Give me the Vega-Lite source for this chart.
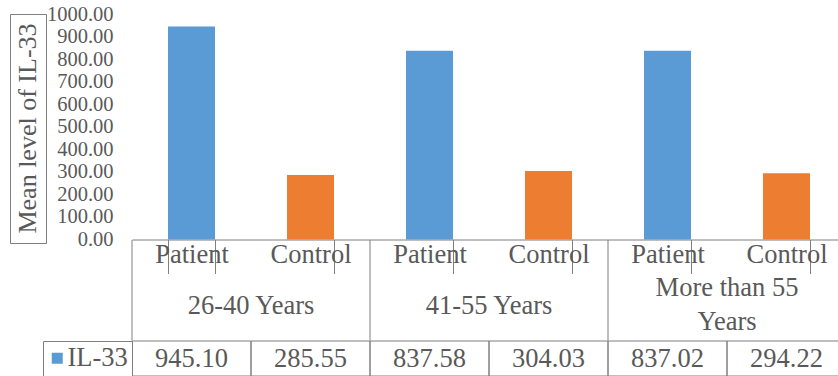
{
  "$schema": "https://vega.github.io/schema/vega-lite/v6.json",
  "padding": {"left": 9, "top": 4, "right": 0, "bottom": 0},
  "config": {
    "view": {"stroke": null},
    "font": "Liberation Serif"
  },
  "datasets": {
    "il33": [
      {"column": "26-40 Years / Patient", "group": "26-40 Years", "type": "Patient", "value": 945.10},
      {"column": "26-40 Years / Control", "group": "26-40 Years", "type": "Control", "value": 285.55},
      {"column": "41-55 Years / Patient", "group": "41-55 Years", "type": "Patient", "value": 837.58},
      {"column": "41-55 Years / Control", "group": "41-55 Years", "type": "Control", "value": 304.03},
      {"column": "More than 55 Years / Patient", "group": "More than 55 Years", "type": "Patient", "value": 837.02},
      {"column": "More than 55 Years / Control", "group": "More than 55 Years", "type": "Control", "value": 294.22}
    ],
    "groups": [
      {"group": "26-40 Years", "lines": ["26-40 Years"]},
      {"group": "41-55 Years", "lines": ["41-55 Years"]},
      {"group": "More than 55 Years", "lines": ["More than 55", "Years"]}
    ]
  },
  "spacing": -5,
  "hconcat": [
    {
      "width": 36,
      "height": 229,
      "view": {"stroke": "#7f7f7f", "strokeWidth": 1},
      "data": {"values": [{"label": "Mean level of IL-33"}]},
      "mark": {"type": "text", "angle": 270, "font": "Liberation Serif", "fontSize": 26, "color": "#595959", "align": "center", "baseline": "middle"},
      "encoding": {"text": {"field": "label", "type": "nominal"}}
    },
    {
      "bounds": "flush",
      "spacing": 0,
      "resolve": {"scale": {"x": "independent", "color": "independent"}, "legend": {"color": "independent"}},
      "vconcat": [
        {
          "width": 714,
          "height": 225.5,
          "data": {"name": "il33"},
          "mark": {"type": "bar"},
          "encoding": {
            "x": {
              "field": "column", "type": "nominal", "sort": null,
              "scale": {"paddingInner": 0.605, "paddingOuter": 0.3025},
              "axis": {
                "title": null,
                "labelExpr": "split(datum.value, ' / ')[1]",
                "labelFont": "Liberation Serif", "labelFontSize": 26.5, "labelColor": "#595959", "labelAngle": 0,
                "labelBaseline": "middle", "labelPadding": -19,
                "tickBand": "extent", "tickSize": 34, "tickColor": "#7f7f7f",
                "domainColor": "#7f7f7f", "grid": false, "labelOverlap": false
              }
            },
            "y": {
              "field": "value", "type": "quantitative",
              "scale": {"domain": [0, 1000], "nice": false},
              "axis": {
                "title": null,
                "values": [0, 100, 200, 300, 400, 500, 600, 700, 800, 900, 1000],
                "format": ".2f",
                "labelFont": "Liberation Serif", "labelFontSize": 20.5, "labelColor": "#595959", "labelPadding": 19,
                "ticks": false, "tickSize": 0, "domain": false, "grid": false
              }
            },
            "color": {
              "field": "type", "type": "nominal",
              "scale": {"domain": ["Patient", "Control"], "range": ["#5B9BD5", "#ED7D31"]},
              "legend": null
            }
          }
        },
        {
          "width": 714,
          "height": 100.5,
          "data": {"name": "groups"},
          "encoding": {
            "x": {
              "field": "group", "type": "nominal", "sort": null,
              "scale": {"type": "band", "paddingInner": 0, "paddingOuter": 0},
              "axis": null
            }
          },
          "layer": [
            {
              "mark": {"type": "rule", "color": "#7f7f7f", "strokeWidth": 1},
              "encoding": {"x": {"field": "group", "type": "nominal", "sort": null, "bandPosition": 0}}
            },
            {
              "transform": [{"filter": "length(datum.lines) == 1"}],
              "mark": {"type": "text", "fontSize": 26.5, "color": "#595959", "baseline": "middle", "dy": 16},
              "encoding": {"text": {"field": "lines", "type": "nominal"}}
            },
            {
              "transform": [{"filter": "length(datum.lines) > 1"}],
              "mark": {"type": "text", "fontSize": 26.5, "color": "#595959", "baseline": "middle", "dy": -2, "lineHeight": 34},
              "encoding": {"text": {"field": "lines", "type": "nominal"}}
            }
          ]
        },
        {
          "width": 714,
          "height": 35,
          "data": {"name": "il33"},
          "encoding": {
            "x": {
              "field": "column", "type": "nominal", "sort": null,
              "scale": {"type": "band", "paddingInner": 0, "paddingOuter": 0},
              "axis": null
            }
          },
          "layer": [
            {
              "mark": {"type": "rect", "filled": false, "color": "#7f7f7f", "strokeWidth": 1}
            },
            {
              "mark": {"type": "square", "opacity": 0},
              "encoding": {
                "color": {
                  "datum": "IL-33",
                  "scale": {"range": ["#5B9BD5"]},
                  "legend": {
                    "title": null, "orient": "left", "offset": 0, "padding": 4,
                    "strokeColor": "#7f7f7f", "fillColor": "white", "cornerRadius": 0,
                    "labelFont": "Liberation Serif", "labelFontSize": 26.5, "labelColor": "#595959", "labelOffset": -3,
                    "symbolType": "square", "symbolSize": 121, "symbolStrokeWidth": 0, "symbolOpacity": 1,
                    "symbolOffset": -3
                  }
                }
              }
            },
            {
              "mark": {"type": "text", "fontSize": 26.5, "color": "#595959", "baseline": "middle"},
              "encoding": {"text": {"field": "value", "type": "quantitative", "format": ".2f"}}
            }
          ]
        }
      ]
    }
  ]
}
